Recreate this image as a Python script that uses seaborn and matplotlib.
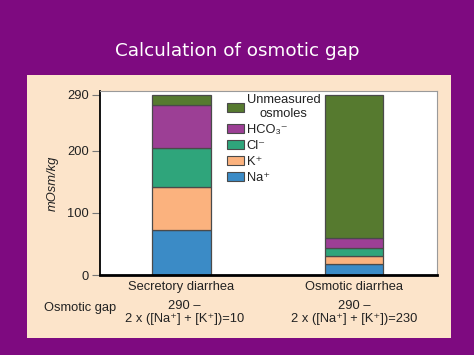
import matplotlib
matplotlib.use("Agg")
import matplotlib.pyplot as plt
from matplotlib.patches import Rectangle, Patch
import seaborn as sns
import pandas as pd
import numpy as np

# values (mOsm/kg)
categories = ["Secretory diarrhea", "Osmotic diarrhea"]
components = ["Na⁺", "K⁺", "Cl⁻", "HCO₃⁻", "Unmeasured\nosmoles"]
na = [72, 17]
k = [70, 13]
cl = [62, 13]
hco3 = [70, 17]
unmeasured = [16, 230]
colors = ["#3b8bc6", "#fbb27e", "#2fa57b", "#9c3f95", "#567a2f"]
yticks = [0, 100, 200, 290]
gap_text = ["290 –\n2 x ([Na⁺] + [K⁺])=10", "290 –\n2 x ([Na⁺] + [K⁺])=230"]

sns.set_style("white")
plt.rcParams["font.family"] = ["Liberation Sans", "DejaVu Sans"]
fs = 9.3

df = pd.DataFrame({"category": categories, "Na⁺": na, "K⁺": k, "Cl⁻": cl,
                   "HCO₃⁻": hco3, "Unmeasured\nosmoles": unmeasured})

fig = plt.figure(figsize=(4.74, 3.55), dpi=100)
fig.patch.set_facecolor("#7e0a80")
fig.patches.append(Rectangle((27 / 474, 1 - 338 / 355), 424 / 474, 263 / 355,
                             transform=fig.transFigure, facecolor="#fce4ca",
                             edgecolor="none", zorder=-5))
fig.text(0.5, 1 - 51 / 355, "Calculation of osmotic gap", color="white",
         ha="center", va="center", fontsize=13.2, family="DejaVu Sans")

ax = fig.add_axes([100 / 474, 1 - 275 / 355, 337 / 474, 184 / 355])
ax.set_facecolor("white")

bottom = np.zeros(len(categories))
for comp, col in zip(components, colors):
    sns.barplot(data=df, x="category", y=comp, color=col, width=0.34,
                bottom=bottom, edgecolor="#4a4a4a", linewidth=0.9,
                saturation=1, ax=ax)
    bottom = bottom + df[comp].values

ax.set_xlim(-0.47, 1.48)
ax.set_ylim(0, 296)
ax.set_yticks(yticks)
ax.set_yticklabels([str(t) for t in yticks], fontsize=fs, color="#222222")
ax.tick_params(axis="y", direction="out", length=6, width=0.8, color="#777777", pad=2, left=True)
ax.tick_params(axis="x", length=0, labelsize=fs, labelcolor="#222222", pad=4)
ax.set_xlabel("")
ax.set_ylabel("mOsm/kg", fontsize=fs, style="italic", color="#222222", labelpad=6)

for side in ["top", "right"]:
    ax.spines[side].set_color("#9a9a9a")
    ax.spines[side].set_linewidth(0.8)
ax.spines["left"].set_color("black")
ax.spines["left"].set_linewidth(1.3)
ax.spines["bottom"].set_color("black")
ax.spines["bottom"].set_linewidth(2)

handles = [Patch(facecolor=c, edgecolor="#4a4a4a", linewidth=0.8) for c in colors]
leg = ax.legend(handles[::-1], components[::-1], loc="upper left",
                bbox_to_anchor=(221 / 474, 1 - 88 / 355), bbox_transform=fig.transFigure,
                frameon=False, fontsize=fs, handlelength=1.3, handleheight=0.7,
                handletextpad=0.2, labelspacing=0.3, borderpad=0)
for t in leg.get_texts():
    t.set_multialignment("center")
    t.set_color("#222222")

fig.text(44 / 474, 1 - 308 / 355, "Osmotic gap", fontsize=fs, color="#222222",
         ha="left", va="center")
for xpos, txt in zip([184.5, 354.5], gap_text):
    fig.text(xpos / 474, 1 - 312.5 / 355, txt, fontsize=fs, color="#222222",
             ha="center", va="center", multialignment="center", linespacing=1.1)

fig.savefig("out.png", dpi=100, facecolor=fig.get_facecolor())
